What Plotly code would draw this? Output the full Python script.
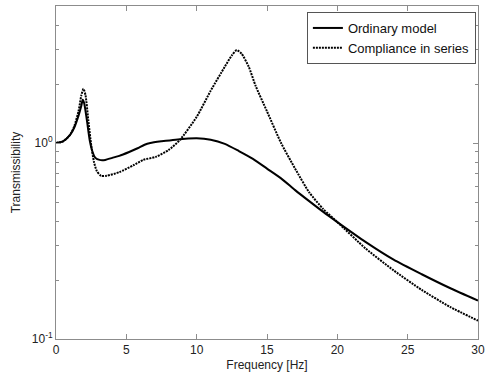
import plotly.graph_objects as go

# Ordinary model
freq_ord = [0, 0.5, 1.0, 1.3, 1.6, 1.8, 1.9, 2.0, 2.2, 2.4, 2.6, 2.8, 3.1, 3.5, 4.0, 4.5, 5.2, 5.8, 6.3, 6.7,
            7.5, 8.5, 10, 11, 12, 13, 14, 15, 16, 17, 18, 19, 20, 22, 24, 26, 28, 30]
trans_ord = [1.0, 1.02, 1.1, 1.2, 1.38, 1.55, 1.66, 1.6, 1.3, 1.03, 0.9, 0.84, 0.82, 0.82, 0.84, 0.86, 0.9, 0.94, 0.98, 1.0,
             1.02, 1.04, 1.057, 1.04, 0.99, 0.91, 0.83, 0.74, 0.66, 0.575, 0.505, 0.445, 0.395, 0.313, 0.254, 0.214, 0.182, 0.157]

# Compliance in series
freq_cmp = [0, 0.5, 1.0, 1.3, 1.6, 1.8, 1.95, 2.1, 2.3, 2.5, 2.7, 2.9, 3.2, 3.6, 4.5, 5.5, 6.2, 7.1, 8.0, 8.8,
            10, 11, 12, 12.5, 12.85, 13.2, 13.7, 14.2, 15, 16, 17, 18, 19, 20, 22, 24, 26, 28, 30]
trans_cmp = [1.0, 1.02, 1.1, 1.22, 1.45, 1.75, 1.89, 1.75, 1.3, 0.98, 0.8, 0.72, 0.68, 0.68, 0.71, 0.77, 0.82, 0.85, 0.92, 1.035,
             1.36, 1.85, 2.45, 2.8, 2.98, 2.85, 2.45, 1.95, 1.45, 1.0, 0.74, 0.56, 0.46, 0.395, 0.29, 0.224, 0.178, 0.146, 0.124]

x_ticks = [0, 5, 10, 15, 20, 25, 30]
y_ticks = [0.1, 1]
y_ticktext = ["10<sup>-1</sup>", "10<sup>0</sup>"]
y_minor = [0.2, 0.3, 0.4, 0.5, 0.6, 0.7, 0.8, 0.9, 2, 3, 4]

fig = go.Figure()
fig.add_trace(go.Scatter(x=freq_ord, y=trans_ord, mode="lines", name="Ordinary model",
                         line=dict(color="black", width=2, shape="spline", smoothing=0.6)))
fig.add_trace(go.Scatter(x=freq_cmp, y=trans_cmp, mode="lines", name="Compliance in series",
                         line=dict(color="black", width=2, dash="2px,1px", shape="spline", smoothing=0.6)))

axis_col = "#8c8c8c"
font = dict(family="Liberation Sans, Arial, sans-serif", size=12, color="#222")
fig.update_layout(
    width=490, height=378,
    margin=dict(l=56, r=12, t=6, b=39),
    paper_bgcolor="white", plot_bgcolor="white",
    font=font,
    showlegend=True,
    legend=dict(x=0.995, y=0.982, xanchor="right", yanchor="top",
                bordercolor="#555", borderwidth=1, bgcolor="white",
                font=dict(size=13, color="#111"), tracegroupgap=0,
                itemwidth=30),
    xaxis=dict(range=[0, 30], tickvals=x_ticks, ticks="inside", ticklen=5, tickcolor=axis_col,
               showline=True, linecolor=axis_col, linewidth=1, mirror="ticks", showgrid=False, zeroline=False,
               title=dict(text="Frequency [Hz]", standoff=4, font=dict(size=12)),
               tickfont=dict(size=12)),
    yaxis=dict(type="log", range=[-1, 0.699], tickvals=y_ticks, ticktext=y_ticktext,
               ticks="inside", ticklen=5, tickcolor=axis_col,
               minor=dict(tickvals=y_minor, ticks="inside", ticklen=3, tickcolor=axis_col),
               showline=True, linecolor=axis_col, linewidth=1, mirror="ticks", showgrid=False, zeroline=False,
               title=dict(text="Transmissibility", standoff=8, font=dict(size=12)),
               tickfont=dict(size=12)),
)

fig.write_html("out.html")
